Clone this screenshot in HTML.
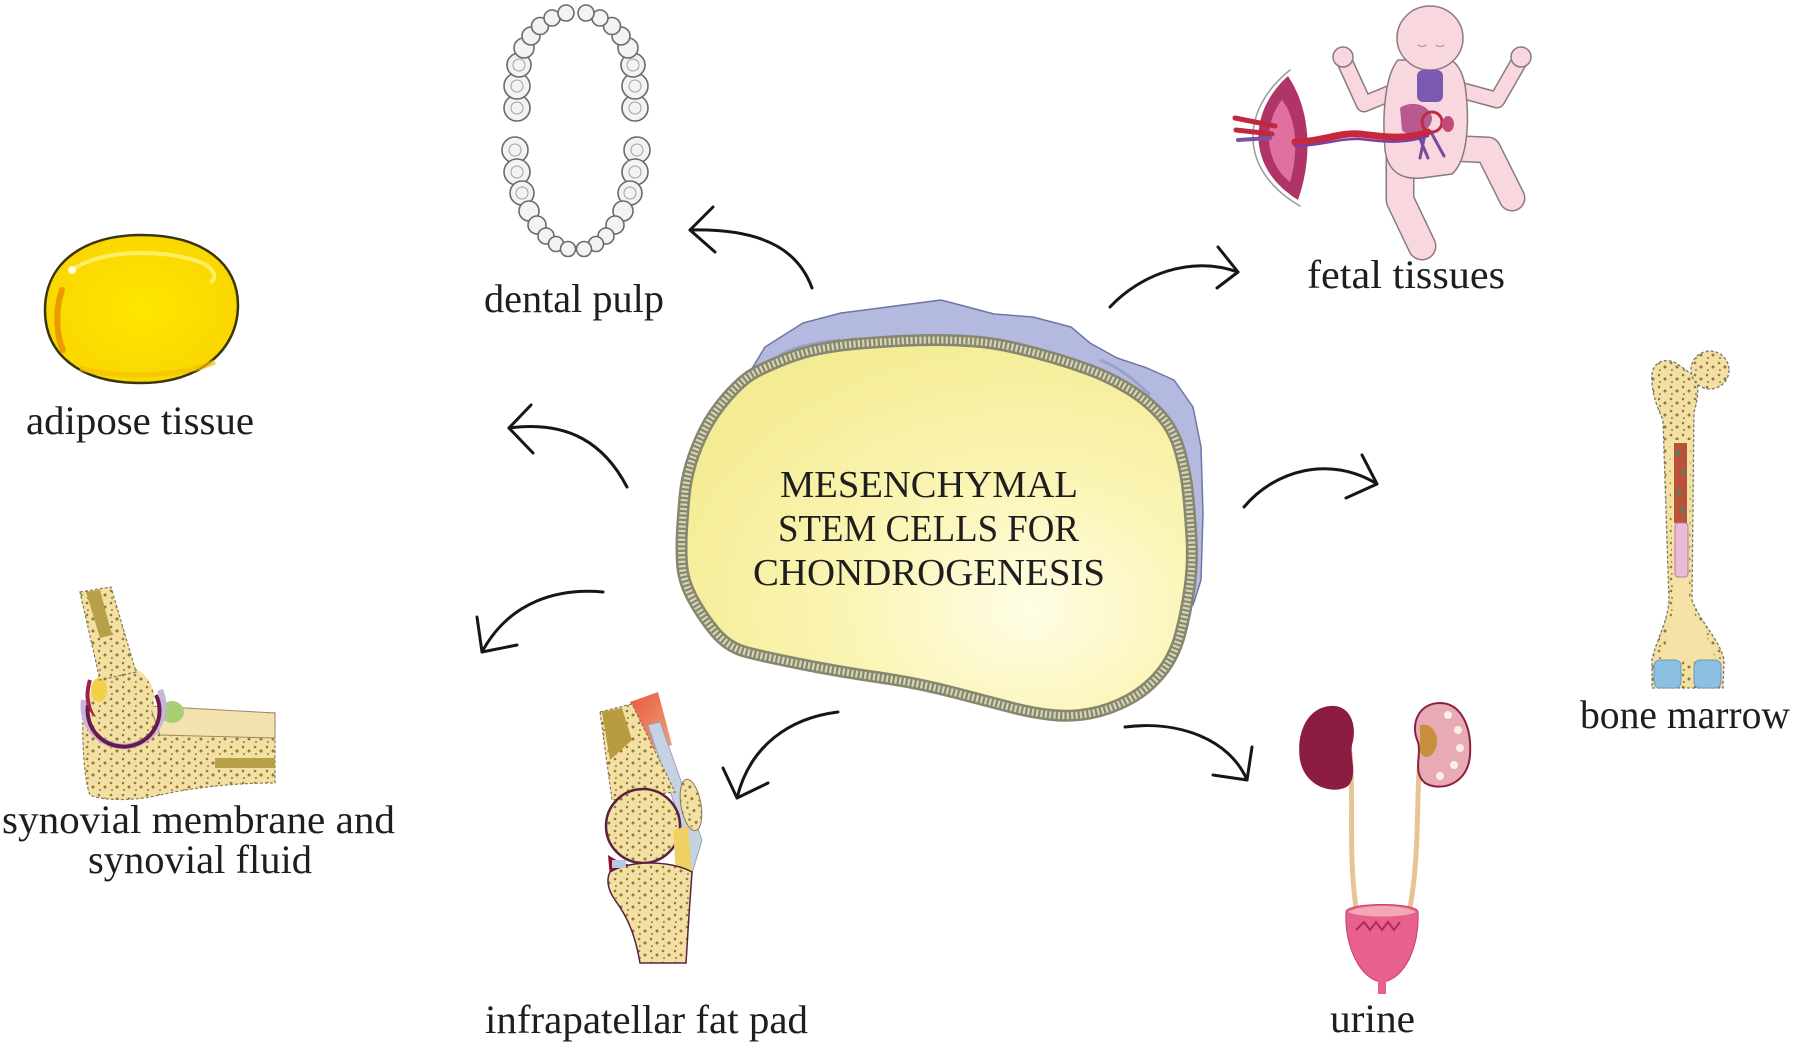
<!DOCTYPE html>
<html>
<head>
<meta charset="utf-8">
<style>
html,body{margin:0;padding:0;background:#fff;}
svg{display:block;}
text{font-family:"Liberation Serif",serif;fill:#1e1e1e;}
</style>
</head>
<body>
<svg width="1798" height="1049" viewBox="0 0 1798 1049" xmlns="http://www.w3.org/2000/svg">
<defs>
  <pattern id="spongy" width="12" height="12" patternUnits="userSpaceOnUse">
    <rect width="12" height="12" fill="#f3e0a2"/>
    <circle cx="3" cy="3" r="1.3" fill="#8c7a3a"/>
    <circle cx="9" cy="7" r="1.5" fill="#8c7a3a"/>
    <circle cx="4" cy="10" r="1" fill="#8c7a3a"/>
  </pattern>
  <radialGradient id="yel" cx="0.68" cy="0.72" r="0.75">
    <stop offset="0" stop-color="#fffde6"/>
    <stop offset="0.45" stop-color="#fbf5b6"/>
    <stop offset="1" stop-color="#f4ec94"/>
  </radialGradient>
  <radialGradient id="fat" cx="0.5" cy="0.5" r="0.6">
    <stop offset="0" stop-color="#ffe600"/>
    <stop offset="1" stop-color="#f8d400"/>
  </radialGradient>
  <linearGradient id="musc" x1="0" y1="0" x2="1" y2="1">
    <stop offset="0" stop-color="#e85a3c"/>
    <stop offset="1" stop-color="#f0a080"/>
  </linearGradient>
</defs>

<!-- ============ TEETH (dental arch) ============ -->
<g fill="#f3f3f3" stroke="#6a6a6a" stroke-width="1.6">
  <circle cx="517" cy="108" r="13"/><circle cx="517" cy="86" r="13"/><circle cx="519" cy="65" r="12"/>
  <circle cx="524" cy="48" r="10"/><circle cx="531" cy="36" r="9"/><circle cx="540" cy="26" r="8.5"/>
  <circle cx="552" cy="18" r="8"/><circle cx="566" cy="13" r="8"/>
  <circle cx="635" cy="108" r="13"/><circle cx="635" cy="86" r="13"/><circle cx="633" cy="65" r="12"/>
  <circle cx="628" cy="48" r="10"/><circle cx="621" cy="36" r="9"/><circle cx="612" cy="26" r="8.5"/>
  <circle cx="600" cy="18" r="8"/><circle cx="586" cy="13" r="8"/>
  <circle cx="515" cy="150" r="13"/><circle cx="517" cy="172" r="13"/><circle cx="522" cy="193" r="12"/>
  <circle cx="529" cy="211" r="10"/><circle cx="537" cy="225" r="9"/><circle cx="546" cy="236" r="8"/>
  <circle cx="556" cy="244" r="7.5"/><circle cx="568" cy="249" r="7.5"/>
  <circle cx="637" cy="150" r="13"/><circle cx="635" cy="172" r="13"/><circle cx="630" cy="193" r="12"/>
  <circle cx="623" cy="211" r="10"/><circle cx="615" cy="225" r="9"/><circle cx="606" cy="236" r="8"/>
  <circle cx="596" cy="244" r="7.5"/><circle cx="584" cy="249" r="7.5"/>
</g>
<g fill="none" stroke="#a0a0a0" stroke-width="1">
  <circle cx="517" cy="108" r="6"/><circle cx="517" cy="86" r="6"/><circle cx="519" cy="65" r="6"/>
  <circle cx="635" cy="108" r="6"/><circle cx="635" cy="86" r="6"/><circle cx="633" cy="65" r="6"/>
  <circle cx="515" cy="150" r="6"/><circle cx="517" cy="172" r="6"/><circle cx="522" cy="193" r="6"/>
  <circle cx="637" cy="150" r="6"/><circle cx="635" cy="172" r="6"/><circle cx="630" cy="193" r="6"/>
</g>

<!-- ============ BABY (fetal tissues) ============ -->
<g stroke-linecap="round" stroke-linejoin="round">
  <!-- legs -->
  <polyline points="1400,150 1400,200 1422,246" fill="none" stroke="#8a7a80" stroke-width="29"/>
  <polyline points="1400,150 1400,200 1422,246" fill="none" stroke="#f8d8de" stroke-width="26"/>
  <polyline points="1445,148 1488,150 1512,198" fill="none" stroke="#8a7a80" stroke-width="27"/>
  <polyline points="1445,148 1488,150 1512,198" fill="none" stroke="#f8d8de" stroke-width="24"/>
  <!-- arms -->
  <polyline points="1398,90 1364,104 1344,60" fill="none" stroke="#8a7a80" stroke-width="17"/>
  <polyline points="1398,90 1364,104 1344,60" fill="none" stroke="#f8d8de" stroke-width="14"/>
  <polyline points="1460,90 1497,100 1520,60" fill="none" stroke="#8a7a80" stroke-width="17"/>
  <polyline points="1460,90 1497,100 1520,60" fill="none" stroke="#f8d8de" stroke-width="14"/>
  <circle cx="1343" cy="57" r="10" fill="#f8d8de" stroke="#8a7a80" stroke-width="1.5"/>
  <circle cx="1521" cy="57" r="10" fill="#f8d8de" stroke="#8a7a80" stroke-width="1.5"/>
  <!-- torso -->
  <path d="M1398,60 C1385,75 1382,115 1385,150 C1388,172 1402,180 1422,178 L1452,174 C1468,160 1470,120 1465,85 C1462,70 1456,62 1450,60 Z" fill="#f8d8de" stroke="#8a7a80" stroke-width="1.5"/>
  <!-- head -->
  <ellipse cx="1430" cy="38" rx="33" ry="32" fill="#f8d8de" stroke="#8a7a80" stroke-width="1.5"/>
  <path d="M1418,45 q4,3 8,0 M1436,45 q4,3 8,0" fill="none" stroke="#a08890" stroke-width="1"/>
  <!-- organs -->
  <rect x="1417" y="70" width="26" height="32" rx="6" fill="#7a5ab0"/>
  <path d="M1400,108 C1410,100 1430,104 1432,118 C1432,132 1410,140 1402,130 Z" fill="#b85a90"/>
  <circle cx="1432" cy="122" r="10" fill="none" stroke="#c02848" stroke-width="3"/>
  <ellipse cx="1448" cy="124" rx="6" ry="8" fill="#c04c7a"/>
  <path d="M1418,134 L1428,158 M1432,134 L1444,156 M1425,134 L1420,158" stroke="#7a4aa0" stroke-width="3" fill="none"/>
  <!-- placenta -->
  <path d="M1290,70 C1240,110 1238,170 1300,206" fill="none" stroke="#9a9a9a" stroke-width="1.5"/>
  <path d="M1288,76 C1248,112 1246,168 1298,200 C1312,160 1312,112 1288,76 Z" fill="#b03468"/>
  <path d="M1282,100 C1265,120 1262,160 1290,182 C1298,155 1298,120 1282,100 Z" fill="#e070a0"/>
  <path d="M1235,118 L1275,126 M1236,130 L1272,134" stroke="#c02840" stroke-width="5"/>
  <path d="M1238,140 L1270,138" stroke="#7a50a8" stroke-width="4"/>
  <!-- cord -->
  <path d="M1295,142 C1320,142 1340,132 1360,134 C1385,137 1405,140 1428,132" fill="none" stroke="#c8283e" stroke-width="7"/>
  <path d="M1295,146 C1320,146 1340,138 1360,139 C1385,142 1405,144 1428,136" fill="none" stroke="#7a40a0" stroke-width="2.5"/>
</g>

<!-- ============ ADIPOSE CELL ============ -->
<path d="M141,235 C205,235 238,265 238,305 C238,350 200,383 141,383 C80,383 45,355 45,310 C45,262 85,235 141,235 Z" fill="url(#fat)" stroke="#3a3410" stroke-width="2.5"/>
<path d="M72,270 C100,250 160,248 200,262 C215,268 218,280 210,282" fill="none" stroke="#fff27a" stroke-width="4" opacity="0.8"/>
<path d="M62,290 C55,310 56,335 63,350" fill="none" stroke="#eb9a00" stroke-width="6" stroke-linecap="round"/>
<path d="M80,368 C110,378 180,378 215,362" fill="none" stroke="#f5c000" stroke-width="5" opacity="0.7"/>
<circle cx="72" cy="270" r="4" fill="#fffbe0"/>

<!-- ============ CENTRAL CELL ============ -->
<polygon points="742,385 765,347 803,323 841,313 880,308 918,303 941,300 964,306 994,314 1033,317 1071,327 1090,343 1117,358 1147,368 1174,380 1193,407 1201,447 1203,513 1201,580 1193,605 1150,560 1000,450 800,420" fill="#b4b9df" stroke="#6f76a6" stroke-width="1.5" stroke-linejoin="round"/>
<path d="M780,355 C800,345 820,342 840,340 M1100,360 C1120,368 1135,380 1150,395" fill="none" stroke="#9aa0cc" stroke-width="3"/>
<path d="M691.5,596.5 Q683,580 682,563.5 Q681,547 682,530 Q683,513 684.5,496.5 Q686,480 691,463.5 Q696,447 704.5,430 Q713,413 727.5,396.5 Q742,380 753.5,373.5 Q765,367 784,359.5 Q803,352 822,348.5 Q841,345 860.5,343.5 Q880,342 899,341 Q918,340 937,340 Q956,340 975,341.5 Q994,343 1013.5,347.5 Q1033,352 1052,357.5 Q1071,363 1090,370 Q1109,377 1128,388.5 Q1147,400 1160.5,415 Q1174,430 1180,451.5 Q1186,473 1188,493 Q1190,513 1191.5,538 Q1193,563 1189.5,588 Q1186,613 1180,635 Q1174,657 1160.5,673.5 Q1147,690 1128,700 Q1109,710 1090,713.5 Q1071,717 1052,715 Q1033,713 1013.5,708 Q994,703 956,693 Q918,683 879.5,677.5 Q841,672 803,664.5 Q765,657 746,652 Q727,647 713.5,630 Q700,613 691.5,596.5 Z" fill="url(#yel)" stroke="#878770" stroke-width="12"/>
<path d="M691.5,596.5 Q683,580 682,563.5 Q681,547 682,530 Q683,513 684.5,496.5 Q686,480 691,463.5 Q696,447 704.5,430 Q713,413 727.5,396.5 Q742,380 753.5,373.5 Q765,367 784,359.5 Q803,352 822,348.5 Q841,345 860.5,343.5 Q880,342 899,341 Q918,340 937,340 Q956,340 975,341.5 Q994,343 1013.5,347.5 Q1033,352 1052,357.5 Q1071,363 1090,370 Q1109,377 1128,388.5 Q1147,400 1160.5,415 Q1174,430 1180,451.5 Q1186,473 1188,493 Q1190,513 1191.5,538 Q1193,563 1189.5,588 Q1186,613 1180,635 Q1174,657 1160.5,673.5 Q1147,690 1128,700 Q1109,710 1090,713.5 Q1071,717 1052,715 Q1033,713 1013.5,708 Q994,703 956,693 Q918,683 879.5,677.5 Q841,672 803,664.5 Q765,657 746,652 Q727,647 713.5,630 Q700,613 691.5,596.5 Z" fill="none" stroke="#d6d6b4" stroke-width="7" stroke-dasharray="2.2 2.2"/>
<text x="780" y="497" font-size="38" textLength="298" lengthAdjust="spacingAndGlyphs">MESENCHYMAL</text>
<text x="778" y="541" font-size="38" textLength="301" lengthAdjust="spacingAndGlyphs">STEM CELLS FOR</text>
<text x="753" y="585" font-size="38" textLength="352" lengthAdjust="spacingAndGlyphs">CHONDROGENESIS</text>

<!-- ============ BONE (femur) ============ -->
<path d="M1652,380 C1650,365 1662,356 1676,363 L1697,378 C1699,392 1697,402 1694,412 L1692,600 C1700,622 1720,640 1724,660 L1723,688 L1652,688 L1652,660 C1656,640 1668,622 1669,600 L1663,420 C1656,405 1652,392 1652,380 Z" fill="url(#spongy)" stroke="#7a7a6a" stroke-width="1.3" stroke-dasharray="3 2"/>
<path d="M1670,440 L1690,440 L1689,600 C1697,625 1712,640 1715,660 L1662,660 C1666,640 1673,620 1673,600 Z" fill="#f5e2a6"/>
<circle cx="1710" cy="370" r="19" fill="url(#spongy)" stroke="#7a7a6a" stroke-width="1.3" stroke-dasharray="3 2"/>
<rect x="1674" y="443" width="13" height="80" fill="#b85238"/>
<path d="M1676,450 l4,6 M1682,470 l3,5 M1677,490 l4,5 M1681,508 l3,6" stroke="#4a8a6a" stroke-width="2.5"/>
<rect x="1675" y="523" width="13" height="54" rx="3" fill="#ebbad8" stroke="#b080a0" stroke-width="1"/>
<rect x="1654" y="660" width="27" height="28" rx="6" fill="#8cc0e2" stroke="#6a9ac0" stroke-width="1"/>
<rect x="1694" y="660" width="27" height="28" rx="6" fill="#8cc0e2" stroke="#6a9ac0" stroke-width="1"/>

<!-- ============ ELBOW ============ -->
<path d="M83,712 C100,705 140,705 160,708 L275,713 L275,783 C240,783 200,786 160,795 C130,802 100,800 90,795 C84,780 82,740 83,712 Z" fill="url(#spongy)" stroke="#8a7a5a" stroke-width="1.2" stroke-dasharray="3 2"/>
<path d="M150,706 L275,713 L275,738 L160,735 Z" fill="#f4e2ae" stroke="#9a8a6a" stroke-width="1"/>
<rect x="215" y="758" width="60" height="10" fill="#b8a048"/>
<ellipse cx="172" cy="712" rx="12" ry="11" fill="#a8cf74"/>
<path d="M84,700 A40,40 0 1,0 160,690" fill="none" stroke="#c8b4dc" stroke-width="6"/>
<path d="M88,705 A36,36 0 1,0 156,695" fill="none" stroke="#6a1a48" stroke-width="4"/>
<path d="M90,680 C84,700 90,712 98,716" fill="none" stroke="#a0204a" stroke-width="4"/>
<circle cx="122" cy="698" r="32" fill="url(#spongy)"/>
<ellipse cx="99" cy="690" rx="8" ry="12" fill="#f2d048"/>
<polygon points="80,592 111,587 136,672 100,680" fill="url(#spongy)" stroke="#8a7a5a" stroke-width="1.2" stroke-dasharray="3 2"/>
<polygon points="86,592 100,590 112,635 100,638" fill="#b8a048"/>

<!-- ============ KNEE ============ -->
<polygon points="630,702 658,692 672,745 650,752" fill="url(#musc)"/>
<polygon points="648,725 660,722 702,840 690,880 683,830" fill="#c6d2e2" stroke="#9aa4b8" stroke-width="1"/>
<path d="M608,855 C630,870 670,875 690,860 L690,880 L610,878 Z" fill="#8a1030"/>
<polygon points="600,712 632,704 675,792 612,800" fill="url(#spongy)" stroke="#8a7a5a" stroke-width="1.2" stroke-dasharray="3 2"/>
<polygon points="602,712 622,708 632,740 610,760" fill="#b89a40"/>
<circle cx="643" cy="826" r="37" fill="url(#spongy)" stroke="#5a2040" stroke-width="2.5"/>
<polygon points="673,830 688,826 692,878 676,874" fill="#f0d060"/>
<ellipse cx="691" cy="805" rx="10" ry="26" fill="url(#spongy)" stroke="#8a7a5a" stroke-width="1" transform="rotate(-10 691 805)"/>
<path d="M610,872 C630,860 670,860 692,872 L689,915 L686,963 L640,963 C636,940 630,920 615,900 C608,890 606,880 610,872 Z" fill="url(#spongy)" stroke="#5a2040" stroke-width="1.5"/>
<rect x="612" y="860" width="14" height="8" fill="#b8c8e2"/>

<!-- ============ URINARY ============ -->
<path d="M1350,752 C1354,800 1348,850 1356,908" fill="none" stroke="#e6c498" stroke-width="5"/>
<path d="M1420,758 C1416,800 1420,850 1410,908" fill="none" stroke="#e6c498" stroke-width="5"/>
<path d="M1330,706 C1350,704 1358,725 1352,745 C1350,760 1358,775 1348,786 C1335,795 1305,788 1300,760 C1296,735 1306,708 1330,706 Z" fill="#8c1c40"/>
<path d="M1440,703 C1418,703 1410,725 1418,742 C1422,755 1412,772 1425,783 C1440,792 1468,785 1470,755 C1472,725 1460,703 1440,703 Z" fill="#e8aab4" stroke="#8c2040" stroke-width="2"/>
<path d="M1420,725 C1432,722 1440,735 1436,748 C1432,758 1424,760 1420,752 Z" fill="#c8903e"/>
<circle cx="1448" cy="715" r="4" fill="#fbeee6"/><circle cx="1458" cy="730" r="4" fill="#fbeee6"/>
<circle cx="1460" cy="748" r="4" fill="#fbeee6"/><circle cx="1454" cy="765" r="4" fill="#fbeee6"/>
<circle cx="1440" cy="776" r="4" fill="#fbeee6"/>
<path d="M1346,912 C1346,902 1418,902 1418,912 C1420,945 1405,980 1382,982 C1360,980 1344,945 1346,912 Z" fill="#e8608c" stroke="#c84070" stroke-width="1"/>
<path d="M1348,912 C1360,904 1405,904 1416,912 C1405,918 1360,918 1348,912 Z" fill="#f3a8b6"/>
<path d="M1356,930 l8,-8 l6,8 l6,-8 l6,8 l6,-8 l6,8 l6,-8" fill="none" stroke="#b02860" stroke-width="2"/>
<rect x="1378" y="978" width="8" height="16" fill="#e8608c"/>

<!-- ============ ARROWS ============ -->
<g fill="none" stroke="#161616" stroke-width="3" stroke-linecap="round" stroke-linejoin="round">
  <path d="M812,288 C800,255 770,228 690,230"/>
  <path d="M713,207 L690,230 L715,252"/>
  <path d="M627,487 C605,445 570,420 509,428"/>
  <path d="M531,405 L509,428 L533,453"/>
  <path d="M603,592 C560,588 510,600 482,652"/>
  <path d="M477,617 L482,652 L517,645"/>
  <path d="M838,712 C790,718 750,745 737,798"/>
  <path d="M723,768 L737,798 L768,783"/>
  <path d="M1125,727 C1180,720 1230,740 1247,780"/>
  <path d="M1252,747 L1247,780 L1213,775"/>
  <path d="M1244,507 C1275,470 1330,455 1377,484"/>
  <path d="M1362,455 L1377,484 L1346,498"/>
  <path d="M1110,307 C1140,275 1190,255 1238,272"/>
  <path d="M1218,247 L1238,272 L1217,288"/>
</g>

<!-- ============ LABELS ============ -->
<text x="484" y="312" font-size="40" textLength="180" lengthAdjust="spacingAndGlyphs">dental pulp</text>
<text x="1307" y="288" font-size="40" textLength="198" lengthAdjust="spacingAndGlyphs">fetal tissues</text>
<text x="26" y="434" font-size="40" textLength="228" lengthAdjust="spacingAndGlyphs">adipose tissue</text>
<text x="1580" y="728" font-size="40" textLength="210" lengthAdjust="spacingAndGlyphs">bone marrow</text>
<text x="2" y="833" font-size="40" textLength="393" lengthAdjust="spacingAndGlyphs">synovial membrane and</text>
<text x="88" y="873" font-size="40" textLength="224" lengthAdjust="spacingAndGlyphs">synovial fluid</text>
<text x="485" y="1033" font-size="40" textLength="323" lengthAdjust="spacingAndGlyphs">infrapatellar fat pad</text>
<text x="1330" y="1032" font-size="40" textLength="85" lengthAdjust="spacingAndGlyphs">urine</text>
</svg>
</body>
</html>
